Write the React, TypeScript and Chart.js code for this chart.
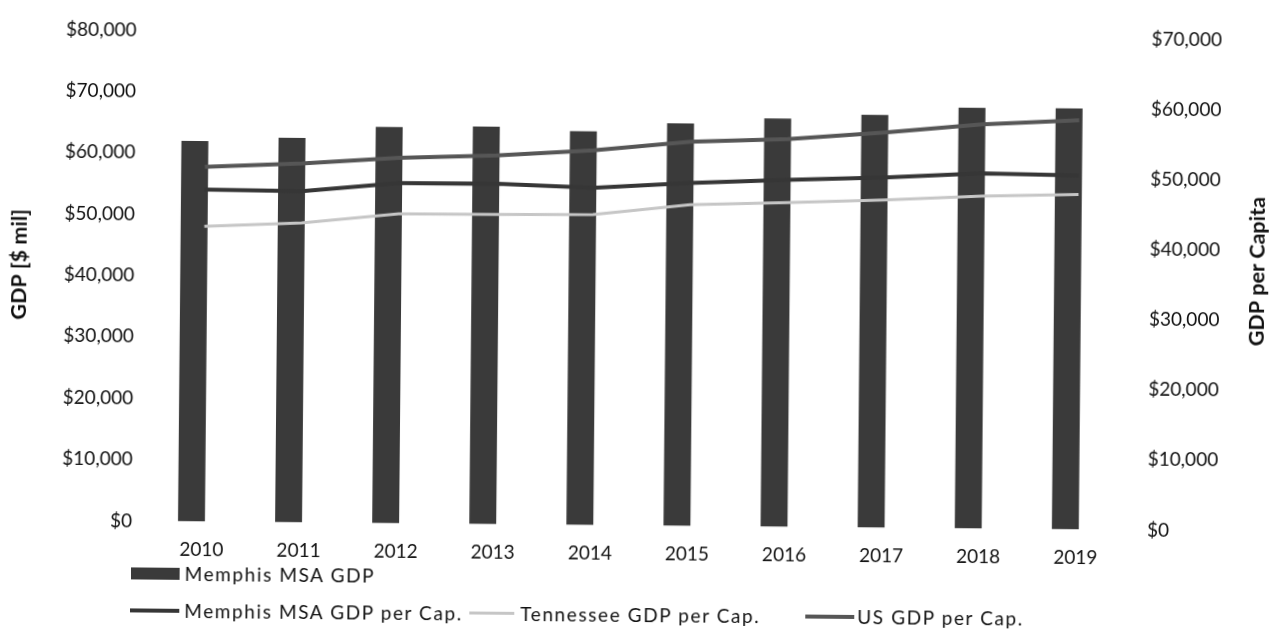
import React, { useEffect, useRef } from "react";
import { Chart, registerables } from "chart.js";

Chart.register(...registerables);

// ---- data ----
const years = ["2010", "2011", "2012", "2013", "2014", "2015", "2016", "2017", "2018", "2019"];

// Memphis MSA GDP, $ millions (left axis)
const memphisGdp = [62000, 62640, 64550, 64750, 64130, 65560, 66500, 67250, 68520, 68590];

// GDP per capita, $ (right axis)
const memphisPerCap = [47330, 47230, 48510, 48540, 48070, 48890, 49470, 49930, 50650, 50460];
const tennesseePerCap = [42100, 42680, 44100, 44140, 44270, 45780, 46230, 46730, 47410, 47760];
const usPerCap = [50580, 51170, 52090, 52570, 53400, 54770, 55270, 56330, 57610, 58340];

const gdpAxis = { min: 0, max: 80000, step: 10000 };
const perCapAxis = { min: 0, max: 70000, step: 10000 };

const leftTitle = "GDP [$ mil]";
const rightTitle = "GDP per Capita";

const legendItems = [
  { label: "Memphis MSA GDP", kind: "box" },
  { label: "Memphis MSA GDP per Cap.", kind: "line" },
  { label: "Tennessee GDP per Cap.", kind: "line" },
  { label: "US GDP per Cap.", kind: "line" },
];

// ---- styling ----
const W = 1276;
const H = 629;
const FONT = "Lato, 'Open Sans', sans-serif";
const TEXT = "#111111";
const BAR = "#3a3a3a";
const MEMPHIS_LINE = "#363636";
const TN_LINE = "#c6c6c6";
const US_LINE = "#565656";

const money = (v: number) => "$" + Number(v).toLocaleString("en-US");

// Both axis titles read bottom-to-top, so they are painted here.
const axisTitles = {
  id: "axisTitles",
  afterDraw(chart: any) {
    const { ctx, chartArea } = chart;
    const mid = (chartArea.top + chartArea.bottom) / 2;
    ctx.save();
    ctx.font = `bold 21.5px ${FONT}`;
    ctx.fillStyle = TEXT;
    ctx.textAlign = "center";
    ctx.textBaseline = "middle";
    const items: [number, number, string][] = [
      [19.5, mid - 10, leftTitle],
      [1257.5, mid - 14, rightTitle],
    ];
    for (const [x, y, t] of items) {
      ctx.save();
      ctx.translate(x, y);
      ctx.rotate(-Math.PI / 2);
      ctx.fillText(t, 0, 0);
      ctx.restore();
    }
    ctx.restore();
  },
};

function GdpChart() {
  const ref = useRef<HTMLCanvasElement | null>(null);

  useEffect(() => {
    if (!ref.current) return;
    const chart = new Chart(ref.current, {
      type: "bar",
      data: {
        labels: years,
        datasets: [
          {
            type: "bar",
            label: legendItems[0].label,
            data: memphisGdp,
            backgroundColor: BAR,
            yAxisID: "y",
            order: 2,
            categoryPercentage: 0.42,
            barPercentage: 1.32,
          } as any,
          {
            // empty companion slot keeps the bar left of the category centre
            type: "bar",
            label: "",
            data: years.map(() => null),
            backgroundColor: "transparent",
            yAxisID: "y",
            order: 3,
            categoryPercentage: 0.42,
            barPercentage: 1.32,
          } as any,
          {
            type: "line",
            label: legendItems[1].label,
            data: memphisPerCap,
            borderColor: MEMPHIS_LINE,
            borderWidth: 4,
            pointRadius: 0,
            tension: 0,
            yAxisID: "y1",
            order: 1,
          },
          {
            type: "line",
            label: legendItems[2].label,
            data: tennesseePerCap,
            borderColor: TN_LINE,
            borderWidth: 3,
            pointRadius: 0,
            tension: 0,
            yAxisID: "y1",
            order: 1,
          },
          {
            type: "line",
            label: legendItems[3].label,
            data: usPerCap,
            borderColor: US_LINE,
            borderWidth: 4,
            pointRadius: 0,
            tension: 0,
            yAxisID: "y1",
            order: 0,
          },
        ],
      },
      options: {
        responsive: false,
        animation: false,
        layout: { padding: { top: 22.5, left: 0, right: 0, bottom: 0 } },
        plugins: {
          legend: { display: false },
          tooltip: { enabled: false },
          title: { display: false },
        },
        scales: {
          x: {
            offset: true,
            grid: { display: false, drawTicks: false },
            border: { display: false },
            ticks: { color: TEXT, font: { family: FONT, size: 19 }, padding: 17, maxRotation: 0 },
            afterFit: (s: any) => {
              s.height = 103.5;
            },
          },
          y: {
            position: "left",
            min: gdpAxis.min,
            max: gdpAxis.max,
            grid: { display: false, drawTicks: false },
            border: { display: false },
            ticks: {
              stepSize: gdpAxis.step,
              color: TEXT,
              font: { family: FONT, size: 19 },
              padding: 21,
              callback: (v: any) => money(v),
            },
            afterFit: (s: any) => {
              s.width = 155;
            },
          },
          y1: {
            position: "right",
            min: perCapAxis.min,
            max: perCapAxis.max,
            grid: { display: false, drawTicks: false },
            border: { display: false },
            ticks: {
              stepSize: perCapAxis.step,
              color: TEXT,
              font: { family: FONT, size: 19 },
              padding: 23,
              callback: (v: any) => money(v),
            },
            afterFit: (s: any) => {
              s.width = 150;
            },
          },
        },
      },
      plugins: [axisTitles],
    });
    return () => chart.destroy();
  }, []);

  return <canvas ref={ref} width={W} height={H} style={{ position: "absolute", left: 0, top: 0 }} />;
}

const legendText: React.CSSProperties = {
  position: "absolute",
  fontFamily: FONT,
  fontSize: 19,
  letterSpacing: "1.6px",
  color: TEXT,
  whiteSpace: "nowrap",
  transform: "translateY(-50%)",
  lineHeight: "22px",
};

function Legend() {
  const row1 = 577.5;
  const row2 = 614.5;
  const lines = [
    { x: 133, w: 49, tx: 187, color: MEMPHIS_LINE, h: 4, item: legendItems[1] },
    { x: 472, w: 45, tx: 523, color: TN_LINE, h: 3, item: legendItems[2] },
    { x: 808, w: 49, tx: 860, color: US_LINE, h: 4, item: legendItems[3] },
  ];
  return (
    <>
      <div style={{ position: "absolute", left: 133, top: row1 - 6, width: 49, height: 12, background: BAR }} />
      <span style={{ ...legendText, left: 187, top: row1 }}>{legendItems[0].label}</span>
      {lines.map((l) => (
        <React.Fragment key={l.item.label}>
          <div
            style={{ position: "absolute", left: l.x, top: row2 - l.h / 2, width: l.w, height: l.h, background: l.color }}
          />
          <span style={{ ...legendText, left: l.tx, top: row2 }}>{l.item.label}</span>
        </React.Fragment>
      ))}
    </>
  );
}

export default function App() {
  return (
    <div style={{ position: "fixed", left: 0, top: 0, width: W, height: H, overflow: "hidden", background: "#fff" }}>
      <div
        style={{
          position: "absolute",
          left: 0,
          top: 0,
          width: W,
          height: H,
          transform: "rotate(0.52deg)",
          transformOrigin: "50% 50%",
        }}
      >
        <GdpChart />
        <Legend />
      </div>
    </div>
  );
}
